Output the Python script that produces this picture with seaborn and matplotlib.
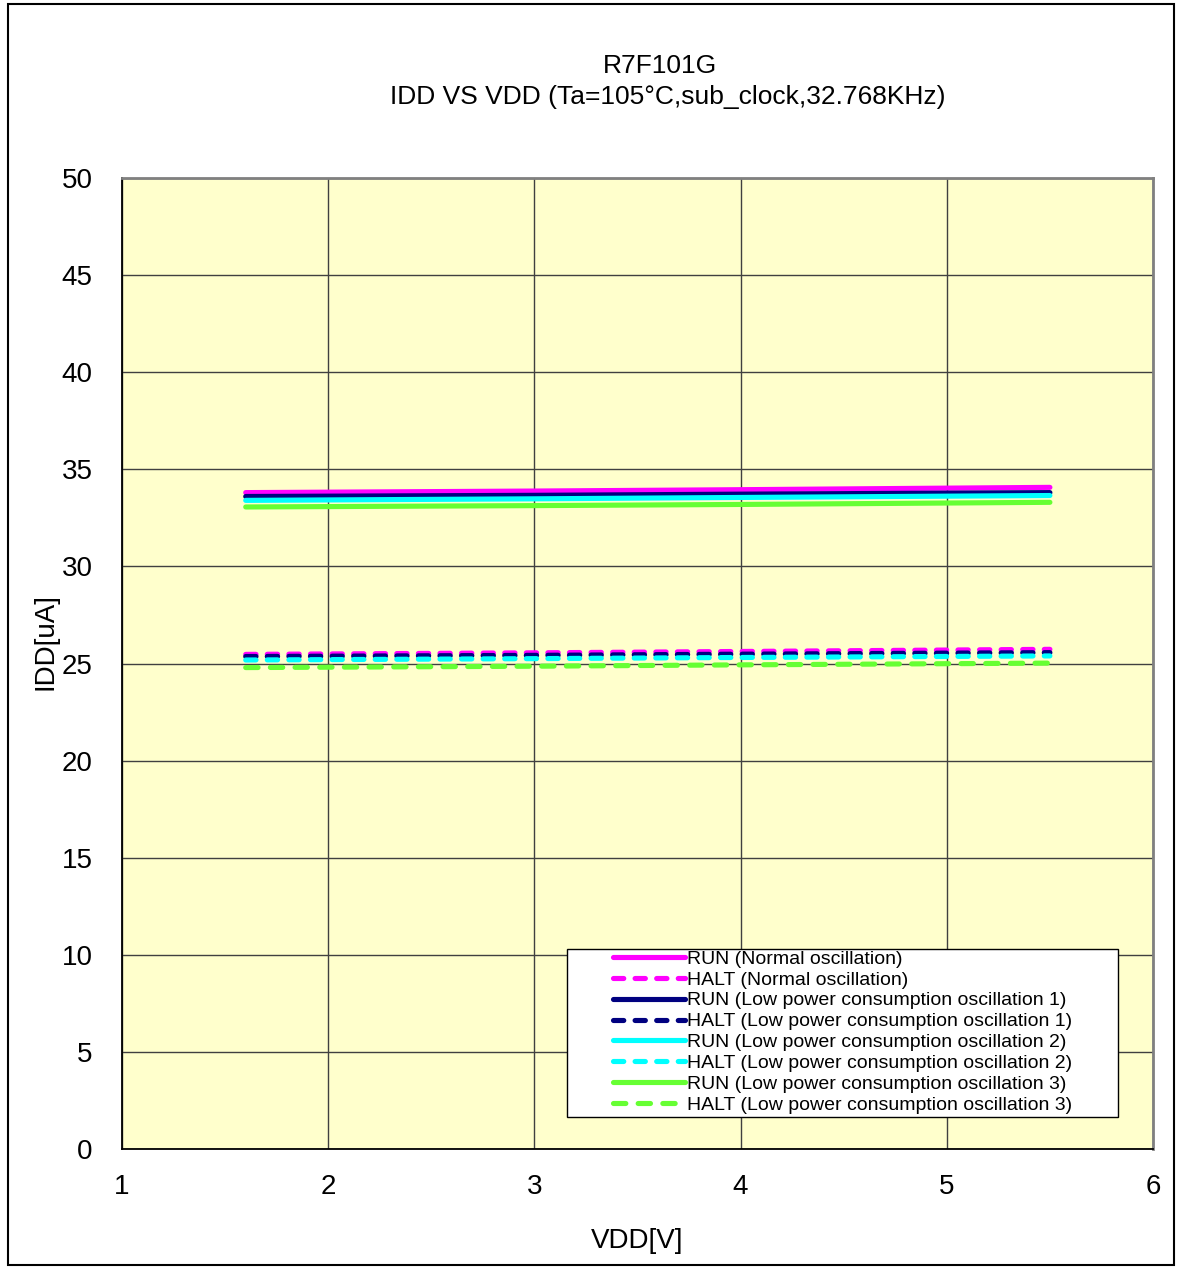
import numpy as np
import pandas as pd
import matplotlib
matplotlib.use('Agg')
import matplotlib.pyplot as plt
import seaborn as sns
from matplotlib.patches import Rectangle

# data
vdd = [1.6, 3.0, 4.0, 5.5]
run_normal = [33.80, 33.88, 33.95, 34.07]
halt_normal = [25.47, 25.55, 25.62, 25.73]
run_low1 = [33.60, 33.66, 33.72, 33.80]
halt_low1 = [25.36, 25.42, 25.48, 25.56]
run_low2 = [33.40, 33.48, 33.55, 33.65]
halt_low2 = [25.18, 25.25, 25.31, 25.39]
run_low3 = [33.06, 33.13, 33.19, 33.30]
halt_low3 = [24.79, 24.86, 24.93, 25.02]

labels = ['RUN (Normal oscillation)', 'HALT (Normal oscillation)',
          'RUN (Low power consumption oscillation 1)', 'HALT (Low power consumption oscillation 1)',
          'RUN (Low power consumption oscillation 2)', 'HALT (Low power consumption oscillation 2)',
          'RUN (Low power consumption oscillation 3)', 'HALT (Low power consumption oscillation 3)']
series = [run_normal, halt_normal, run_low1, halt_low1,
          run_low2, halt_low2, run_low3, halt_low3]
colors = ['#FF00FF', '#FF00FF', '#000080', '#000080',
          '#00FFFF', '#00FFFF', '#66FF33', '#66FF33']
dashed = [False, True, False, True, False, True, False, True]

sns.set_theme(style='white')
plt.rcParams['font.family'] = ['Liberation Sans', 'DejaVu Sans']
plt.rcParams['text.color'] = 'black'
plt.rcParams['axes.labelcolor'] = 'black'
plt.rcParams['xtick.color'] = 'black'
plt.rcParams['ytick.color'] = 'black'

fig = plt.figure(figsize=(11.77, 12.67), dpi=100)
ax = fig.add_axes([122/1177, 1 - 1149/1267, 1031/1177, 971/1267])
ax.set_facecolor('#FFFFCC')

lw = 3.7
for lab, vals, c, d in zip(labels, series, colors, dashed):
    df = pd.DataFrame({'VDD': vdd, 'IDD': vals})
    sns.lineplot(data=df, x='VDD', y='IDD', ax=ax, color=c, linewidth=lw,
                 label=lab, zorder=3)
    line = ax.lines[-1]
    line.set_solid_capstyle('round')
    if d:
        line.set_dash_capstyle('round')
        if c == '#66FF33':
            line.set_dashes((2.4, 2.4))
        else:
            line.set_dashes((2.0, 2.2))

ax.set_xlim(1, 6)
ax.set_ylim(0, 50)
ax.set_xticks([1, 2, 3, 4, 5, 6])
ax.set_yticks(np.arange(0, 51, 5))
ax.tick_params(axis='both', labelsize=20, length=0)
ax.tick_params(axis='x', pad=18)
ax.tick_params(axis='y', pad=21)
ax.grid(True, color='#404040', linewidth=1.0)
ax.set_axisbelow(True)
for s in ['left', 'bottom']:
    ax.spines[s].set_color('black')
    ax.spines[s].set_linewidth(1.3)
for s in ['top', 'right']:
    ax.spines[s].set_color('#808080')
    ax.spines[s].set_linewidth(2.0)

ax.set_xlabel('VDD[V]', fontsize=20, labelpad=20)
ax.set_ylabel('IDD[uA]', fontsize=20)
ax.yaxis.set_label_coords(-0.062, 0.523)

fig.text(660/1177, 1 - 66/1267, 'R7F101G', ha='center', va='center', fontsize=19)
fig.text(668/1177, 1 - 97/1267, 'IDD VS VDD (Ta=105°C,sub_clock,32.768KHz)',
         ha='center', va='center', fontsize=19)

# legend box drawn separately (wide side margins like the source)
box = Rectangle((567/1177, 1 - 1117/1267), 551/1177, 168/1267,
                transform=fig.transFigure, facecolor='white', edgecolor='black',
                linewidth=1.0, zorder=4.5, clip_on=False)
ax.add_patch(box)
leg = ax.legend(loc='center', bbox_to_anchor=((567 + 1118) / 2 / 1177, 1 - 1032/1267),
                bbox_transform=fig.transFigure, fontsize=14, frameon=False,
                handlelength=3.7, handletextpad=0.1,
                labelspacing=0.17, borderpad=0.0, borderaxespad=0)
leg.set_zorder(5)
for t in leg.get_texts():
    t.set_color('black')

# figure border
fig.patches.append(Rectangle((8/1177, 2/1267), 1166/1177, 1261/1267,
                             transform=fig.transFigure, fill=False,
                             edgecolor='black', linewidth=1.5))

fig.savefig('out.png', dpi=100)
